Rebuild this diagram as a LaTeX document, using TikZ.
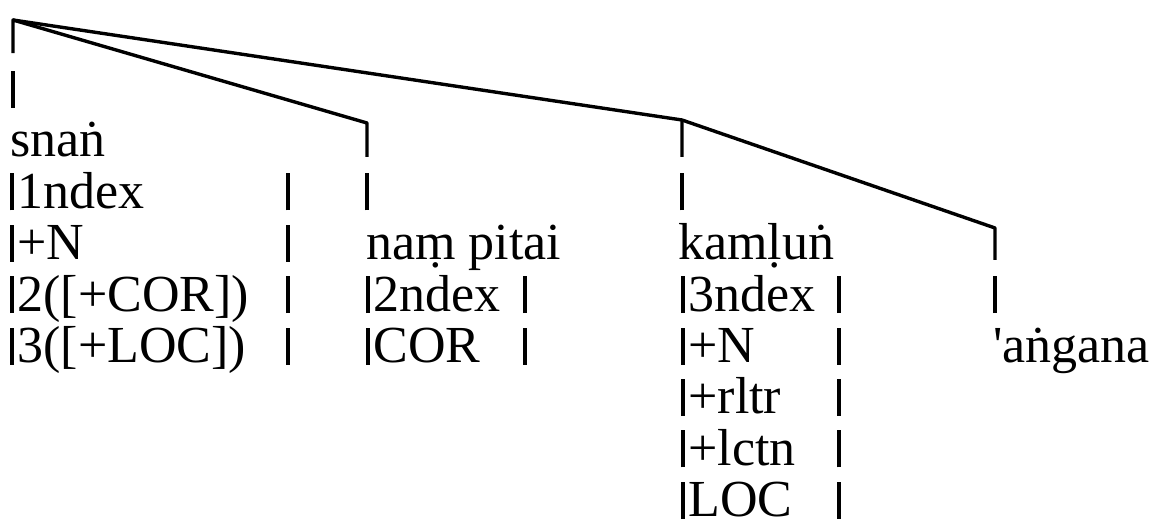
\documentclass[tikz,border=0pt]{standalone}
\usepackage{fontspec}
\setmainfont{Liberation Serif}
\usepackage{tikz}

% short bar that opens a feature line
\newcommand{\vb}{\rule[-1pt]{2pt}{18.5pt}\hspace{1.5pt}}

\begin{document}
\begin{tikzpicture}[x=0.5pt, y=-0.5pt,
    every node/.style={font=\fontsize{26}{30}\selectfont, inner sep=0pt, anchor=base west},
    branch/.style={line width=1.7pt, line join=round},
    bar/.style={line width=2pt}]
  \useasboundingbox (0,0) rectangle (1155,522);
  % row baselines: row 0 at 157, 51.4 per row
  \def\ys{51.4} \def\yz{157}
  \def\xA{10} \def\xB{367} \def\xC{682} \def\xD{995}

  % branch points
  \coordinate (root) at (13,20);
  \coordinate (namtop) at (\xB,123);
  \coordinate (kamtop) at (\xC,120);
  \coordinate (angtop) at (\xD,228);

  % branches down to the first bar of each column
  \draw[branch] (root |- 0,{\yz-2*\ys-1}) -- (root) -- (namtop) -- (namtop |- 0,\yz);
  \draw[branch] (root) -- (kamtop) -- (kamtop |- 0,\yz);
  \draw[branch] (kamtop) -- (angtop) -- (angtop |- 0,{\yz+2*\ys});

  % loose bars (x / row)
  \foreach \x/\r in {13/-1, \xB/1, \xC/1, \xD/3,
                     288/1, 288/2, 288/3, 288/4,
                     525/3, 525/4,
                     839/3, 839/4, 839/5, 839/6, 839/7} {
    \draw[bar] (\x,{\yz+\r*\ys+2}) -- (\x,{\yz+\r*\ys-35});
  }

  % snan column
  \node (snan)  at (\xA,{\yz})       {sna\.{n}};
  \node (snanA) at (\xA,{\yz+\ys})   {\vb 1ndex};
  \node (snanB) at (\xA,{\yz+2*\ys}) {\vb +N};
  \node (snanC) at (\xA,{\yz+3*\ys}) {\vb 2([+COR])};
  \node (snanD) at (\xA,{\yz+4*\ys}) {\vb 3([+LOC])};

  % nam pitai column
  \node (nam)  at (\xB-1,{\yz+2*\ys}) {na\d{m} pitai};
  \node (namA) at (\xB-1,{\yz+3*\ys}) {\vb 2ndex};
  \node (namB) at (\xB-1,{\yz+4*\ys}) {\vb COR};

  % kamlun column
  \node (kam)  at (\xC-4,{\yz+2*\ys}) {kam\d{l}u\.{n}};
  \node (kamA) at (\xC-1,{\yz+3*\ys}) {\vb 3ndex};
  \node (kamB) at (\xC-1,{\yz+4*\ys}) {\vb +N};
  \node (kamC) at (\xC-1,{\yz+5*\ys}) {\vb +rltr};
  \node (kamD) at (\xC-1,{\yz+6*\ys}) {\vb +lctn};
  \node (kamE) at (\xC-1,{\yz+7*\ys}) {\vb LOC};

  % angana column
  \node (ang) at (\xD-2,{\yz+4*\ys}) {\textquotesingle a\.{n}gana};
\end{tikzpicture}
\end{document}
